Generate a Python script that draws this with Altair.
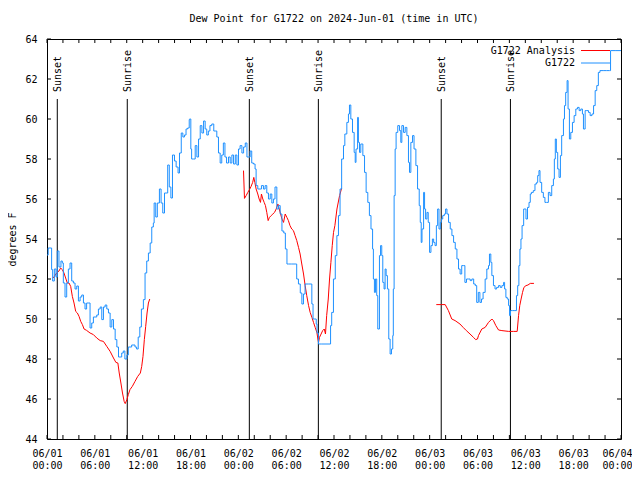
import altair as alt
import pandas as pd

# ---------------- data (hours since 2024-06-01 00:00 UTC, degrees F) ----------------
blue_hours = [0.0,0.15,0.58,0.71,0.92,1.13,1.29,1.5,1.75,1.92,2.05,2.26,2.47,2.68,2.89,3.1,3.31,3.52,3.73,3.94,4.15,4.36,4.57,4.77,4.97,5.17,5.4,5.61,5.82,6.03,6.24,6.45,6.67,6.87,7.08,7.29,7.5,7.71,7.92,8.13,8.34,8.55,8.76,8.97,9.17,9.37,9.57,9.77,10.02,10.2,10.62,11.04,11.24,11.44,11.64,11.84,12.09,12.3,12.51,12.72,12.94,13.14,13.34,13.44,13.64,13.84,14.1,14.31,14.52,14.74,14.94,15.14,15.34,15.54,15.74,15.99,16.2,16.44,16.62,16.84,17.04,17.24,17.44,17.64,17.84,
              17.88,18.04,18.14,18.38,18.59,18.8,19.01,19.22,19.43,19.64,19.84,20.04,20.24,20.44,20.67,20.92,21.09,21.3,21.51,21.72,21.92,22.12,22.32,22.52,22.77,22.98,23.19,23.4,23.62,23.82,24.02,24.22,24.45,24.66,24.87,25.08,25.28,25.48,25.68,25.9,26.1,26.23,26.44,26.73,26.9,27.15,27.36,27.57,27.78,28.0,28.2,28.4,28.6,28.83,29.04,29.25,29.47,29.7,29.9,30.1,30.3,30.7,31.12,31.32,31.54,31.77,31.97,32.17,32.37,32.77,33.12,33.22,33.37,33.63,33.77,33.87,34.05,34.47,34.87,35.37,35.57,
              35.71,35.93,36.16,36.36,36.56,36.76,36.96,37.19,37.36,37.61,37.81,37.94,38.11,38.32,38.53,38.66,38.76,38.96,39.06,39.2,39.36,39.62,39.83,40.03,40.24,40.44,40.64,40.84,40.94,41.07,41.2,41.36,41.49,41.7,41.84,41.99,42.12,42.28,42.41,42.54,42.7,42.87,43.04,43.21,43.37,43.44,43.54,43.67,43.79,44.0,44.22,44.38,44.51,44.72,44.93,45.14,45.34,45.47,45.64,45.85,46.04,46.27,46.48,46.69,46.82,46.94,47.04,47.24,47.36,47.49,47.66,47.82,47.99,48.16,48.34,48.5,48.67,48.84,49.0,49.17,49.34,49.46,49.64,49.84,50.0,50.17,50.37,50.58,50.79,51.0,51.21,51.42,51.62,51.82,52.02,52.22,52.42,52.62,52.87,53.08,53.29,53.52,53.72,
              53.9,54.1,54.3,54.5,54.7,54.96,55.17,55.38,55.5,55.67,55.8,56.0,56.2,56.4,56.64,56.85,57.06,57.27,57.4,57.56,57.73,57.9,58.02,58.14,58.4,58.69,58.89,59.04,59.19,59.32,59.45,59.59,59.79,59.98,60.08,60.27,60.46,60.62,60.76,61.0,61.21,61.42,61.55,61.71,61.84,62.05,62.26,62.46,62.66,62.89,63.1,63.31,63.52,63.64,63.76,63.89,64.06,64.23,64.4,64.56,64.78,64.91,65.06,65.24,65.36,65.53,65.7,65.91,66.12,66.33,66.54,66.75,66.96,67.16,67.29,67.5,67.71,67.92,68.13,68.36,68.56,68.76,68.96,69.16,69.36,69.76,70.16,70.56,70.69,71.26,72.0]
blue_dewpt = [53.2,53.55,52.47,51.9,52.5,52.1,53.4,52.6,52.9,52.8,51.8,51.1,51.8,52.5,52.8,51.9,51.8,51.5,51.65,50.9,51.1,51.2,50.8,50.5,50.8,50.8,49.55,49.8,50.1,50.1,50.2,50.5,50.6,49.97,50.6,50.7,50.5,50.3,49.6,49.97,49.5,48.97,48.6,48.1,48.1,48.3,48.4,48.0,48.2,48.6,48.7,48.6,48.5,49.1,49.6,50.5,50.97,52.3,52.9,53.3,53.8,54.6,54.8,55.8,55.1,55.8,56.5,55.8,55.3,56.3,56.3,57.7,56.6,56.05,58.2,57.9,57.6,57.3,58.3,59.3,59.1,59.2,59.5,59.55,59.97,
              60.0,58.5,58.0,58.0,58.67,58.1,59.0,59.67,59.3,59.9,59.5,59.2,59.4,59.67,59.75,59.4,59.4,59.1,58.3,57.8,58.2,58.8,58.1,57.8,58.1,57.8,58.2,57.75,58.2,57.7,58.5,58.67,58.3,58.6,58.8,58.1,58.1,58.4,57.8,57.75,57.5,56.67,56.5,56.5,56.67,56.5,56.67,56.3,56.0,56.25,55.8,56.0,56.6,55.5,55.67,55.25,54.4,54.3,53.5,52.75,52.75,52.75,52.75,52.0,51.75,51.3,50.75,51.25,51.75,51.75,51.75,50.75,50.0,50.0,49.75,49.3,48.75,48.75,48.75,48.75,49.67,
              50.33,52.0,53.17,54.17,55.17,56.5,58.0,58.67,59.25,59.83,60.25,60.7,60.0,59.33,58.33,57.83,58.5,60.08,58.83,58.33,58.75,58.17,57.33,56.33,55.83,55.17,54.5,53.5,52.0,51.33,52.0,51.17,49.5,53.17,53.67,53.17,51.83,51.5,52.5,52.17,51.5,49.0,48.25,48.5,49.17,51.5,56.17,58.5,59.33,59.67,59.42,58.83,59.67,59.33,59.58,59.17,57.83,57.33,58.83,59.17,58.5,57.67,56.5,55.67,54.83,53.83,54.5,56.33,55.5,55.0,55.33,54.83,53.33,53.67,54.0,53.83,53.67,54.67,55.5,54.5,54.83,55.0,55.17,55.25,55.5,55.25,54.83,54.5,54.17,53.83,53.5,53.0,52.5,52.25,52.67,52.67,51.83,52.0,52.0,51.92,52.0,51.75,51.67,
              50.83,51.33,50.83,51.0,51.33,52.0,52.5,52.67,53.25,52.83,52.17,51.67,51.5,51.58,51.67,51.58,51.67,51.83,51.5,51.08,51.0,50.67,50.17,50.42,50.42,50.42,51.17,51.67,52.67,53.5,54.0,54.67,55.5,55.5,55.0,55.58,55.83,56.25,56.33,56.42,56.75,56.83,57.17,57.42,56.83,56.33,56.08,55.83,55.83,56.33,56.17,56.67,57.0,58.0,59.0,58.33,57.5,57.08,58.17,59.17,60.0,60.67,61.33,61.92,60.5,59.0,59.33,59.83,60.17,60.5,60.58,60.42,60.5,60.25,59.5,60.42,60.42,60.33,60.17,60.25,60.67,61.42,61.67,62.33,62.42,62.42,62.42,62.42,63.42,63.42,63.42]

# analysis series: three separate runs
red1_hours = [0.79,0.92,1.21,1.5,1.71,1.92,2.13,2.34,2.55,2.76,2.97,3.18,3.39,3.6,3.81,4.02,4.23,4.44,4.65,4.97,5.4,5.82,6.24,6.67,7.08,7.5,7.92,8.34,8.64,8.89,9.06,9.27,9.47,9.68,9.81,10.02,10.2,10.41,10.7,11.04,11.38,11.71,11.88,12.04,12.21,12.38,12.55,12.72,12.89]
red1_dewpt = [52.05,52.13,52.3,52.4,52.55,52.47,52.3,52.05,51.8,51.8,51.63,51.13,50.8,50.38,50.3,50.13,49.88,49.72,49.5,49.43,49.3,49.22,49.05,48.92,48.88,48.63,48.38,48.05,47.83,47.8,47.3,46.8,46.3,45.88,45.77,45.97,46.22,46.47,46.63,46.88,47.13,47.3,47.63,48.13,48.97,49.63,50.3,50.8,51.0]
red2_hours = [24.65,24.77,24.98,25.19,25.4,25.6,25.8,25.94,26.07,26.23,26.44,26.61,26.78,26.9,27.07,27.24,27.4,27.57,27.74,27.9,28.12,28.33,28.54,28.75,28.96,29.13,29.3,29.47,29.67,29.88,30.09,30.28,30.48,30.7,30.91,31.12,31.33,31.55,31.75,31.96,32.18,32.38,32.58,32.81,33.01,33.23,33.43,33.64,33.85,33.98,34.06,34.18,34.38,34.58,34.78,34.93,35.08,35.28,35.44,35.61,35.78,35.94,36.11,36.37,36.7,36.95]
red2_dewpt = [57.42,56.03,56.17,56.33,56.47,56.63,56.83,57.08,56.83,56.5,56.25,56.0,55.83,56.25,56.0,55.83,55.67,55.33,54.92,55.08,55.17,55.25,55.33,55.5,55.75,55.5,55.25,55.0,54.83,55.25,55.08,54.92,54.67,54.5,54.42,54.17,53.92,53.58,53.25,52.75,52.25,51.67,51.17,50.67,50.33,50.08,49.83,49.58,49.33,49.0,48.83,49.08,49.25,49.42,49.5,49.25,50.17,51.0,52.0,52.83,53.67,54.33,54.67,55.5,56.17,56.53]
red3_hours = [48.83,49.5,49.95,50.35,50.77,51.19,51.8,52.2,52.6,53.06,53.5,53.77,54.0,54.12,54.54,54.96,55.38,55.8,56.0,56.3,56.64,57.06,57.9,58.5,58.98,59.15,59.3,59.47,59.65,59.82,60.08,60.33,60.62,61.08]
red3_dewpt = [50.72,50.72,50.72,50.42,50.0,49.92,49.75,49.58,49.42,49.25,49.08,48.97,49.0,49.17,49.5,49.58,49.83,50.0,49.92,49.67,49.45,49.42,49.38,49.38,49.38,50.17,50.67,51.0,51.33,51.58,51.67,51.7,51.78,51.78]

event_hours = [1.29, 10.07, 25.38, 34.04, 49.45, 58.13]
event_labels = ["Sunset", "Sunrise", "Sunset", "Sunrise", "Sunset", "Sunrise"]
event_top = 61
y_bottom = 44

tick_top = ["06/01"] * 4 + ["06/02"] * 4 + ["06/03"] * 4 + ["06/04"]
tick_bottom = ["00:00", "06:00", "12:00", "18:00"] * 3 + ["00:00"]
x_label_hours = list(range(0, 73, 6))
x_minor_hours = list(range(0, 73, 2))
y_ticks = list(range(44, 65, 2))

legend_names = ["G1722 Analysis", "G1722"]
legend_colors = ["#ff0000", "#1e90ff"]

title_text = "Dew Point for G1722 on 2024-Jun-01 (time in UTC)"
FONT = "DejaVu Sans Mono"
W, H = 574, 400

# ---------------- frames ----------------
blue_df = pd.DataFrame({"h": blue_hours, "v": blue_dewpt})
red_parts = []
for k, (hh, vv) in enumerate([(red1_hours, red1_dewpt), (red2_hours, red2_dewpt),
                              (red3_hours, red3_dewpt)]):
    red_parts.append(pd.DataFrame({"h": hh, "v": vv, "seg": k}))
red_df = pd.concat(red_parts, ignore_index=True)
ev_df = pd.DataFrame({"h": event_hours, "label": event_labels,
                      "v": [event_top] * len(event_hours), "bot": [y_bottom] * len(event_hours)})
xt_df = pd.DataFrame({"h": x_minor_hours})
yt_df = pd.DataFrame({"v": y_ticks})

top_arr = "[" + ",".join("'%s'" % s for s in tick_top) + "]"
bot_arr = "[" + ",".join("'%s'" % s for s in tick_bottom) + "]"
label_expr = "[%s[round(datum.value/6)], %s[round(datum.value/6)]]" % (top_arr, bot_arr)

xscale = alt.Scale(domain=[0, 72], nice=False, zero=False)
yscale = alt.Scale(domain=[44, 64], nice=False, zero=False)

xaxis = alt.Axis(values=x_label_hours, labelExpr=label_expr, ticks=False, domain=False,
                 grid=False, title=None, labelFont=FONT, labelFontSize=10, labelColor="black",
                 labelPadding=9, labelLineHeight=12, labelFlush=False, labelOverlap=False,
                 labelAlign=alt.condition("datum.value >= 72", alt.value("right"),
                                          alt.value("center")),
                 labelOffset=alt.condition("datum.value >= 72", alt.value(11), alt.value(0)))
yaxis = alt.Axis(values=y_ticks, ticks=False, domain=False, grid=False, title="degrees F",
                 labelFont=FONT, labelFontSize=10, labelColor="black", labelPadding=10,
                 titleFont=FONT, titleFontSize=10, titleFontWeight="normal", titleColor="black",
                 titlePadding=7, labelFlush=False, labelOverlap=False)

X = alt.X("h:Q", scale=xscale, axis=xaxis)
Y = alt.Y("v:Q", scale=yscale, axis=yaxis)

blue = alt.Chart(blue_df).mark_line(color="#1e90ff", strokeWidth=1, interpolate="step-after",
                                    clip=True).encode(x=X, y=Y)
red = alt.Chart(red_df).mark_line(color="#ff0000", strokeWidth=1, clip=True).encode(
    x=X, y=Y, detail="seg:N")

ev_rule = alt.Chart(ev_df).mark_rule(color="black", strokeWidth=1).encode(
    x=X, y=Y, y2="bot:Q")
ev_text = alt.Chart(ev_df).mark_text(angle=270, align="left", baseline="middle", dx=7, dy=1,
                                     font=FONT, fontSize=10, color="black").encode(
    x=X, y=Y, text="label:N")

xt_bot = alt.Chart(xt_df).mark_rule(color="black").encode(
    x=X, y=alt.value(H - 4), y2=alt.value(H))
xt_top = alt.Chart(xt_df).mark_rule(color="black").encode(
    x=X, y=alt.value(0), y2=alt.value(4))
yt_left = alt.Chart(yt_df).mark_rule(color="black").encode(
    y=Y, x=alt.value(0), x2=alt.value(4))
yt_right = alt.Chart(yt_df).mark_rule(color="black").encode(
    y=Y, x=alt.value(W - 4), x2=alt.value(W))

legend_layers = []
for i, (name, col) in enumerate(zip(legend_names, legend_colors)):
    ldf = pd.DataFrame({"name": [name]})
    yy = 11.5 + 12.5 * i
    legend_layers.append(alt.Chart(ldf).mark_text(align="right", baseline="middle", font=FONT,
                                                  fontSize=10, color="black").encode(
        x=alt.value(528), y=alt.value(yy), text="name:N"))
    legend_layers.append(alt.Chart(ldf).mark_rule(color=col, strokeWidth=1).encode(
        x=alt.value(534), x2=alt.value(563), y=alt.value(yy)))

chart = alt.layer(ev_rule, ev_text, red, blue, xt_bot, xt_top, yt_left, yt_right,
                  *legend_layers).properties(
    width=W, height=H,
    title=alt.TitleParams(title_text, font=FONT, fontSize=10, fontWeight="normal",
                          color="black", anchor="middle", offset=10),
    autosize=alt.AutoSizeParams(type="none"),
    padding={"left": 39, "top": 31, "right": 11, "bottom": 34},
    background="white",
).configure_view(stroke="black", strokeWidth=1).configure_axis(labelOverlap=False)

chart.save("out.html", embed_options={"renderer": "svg", "actions": False})
